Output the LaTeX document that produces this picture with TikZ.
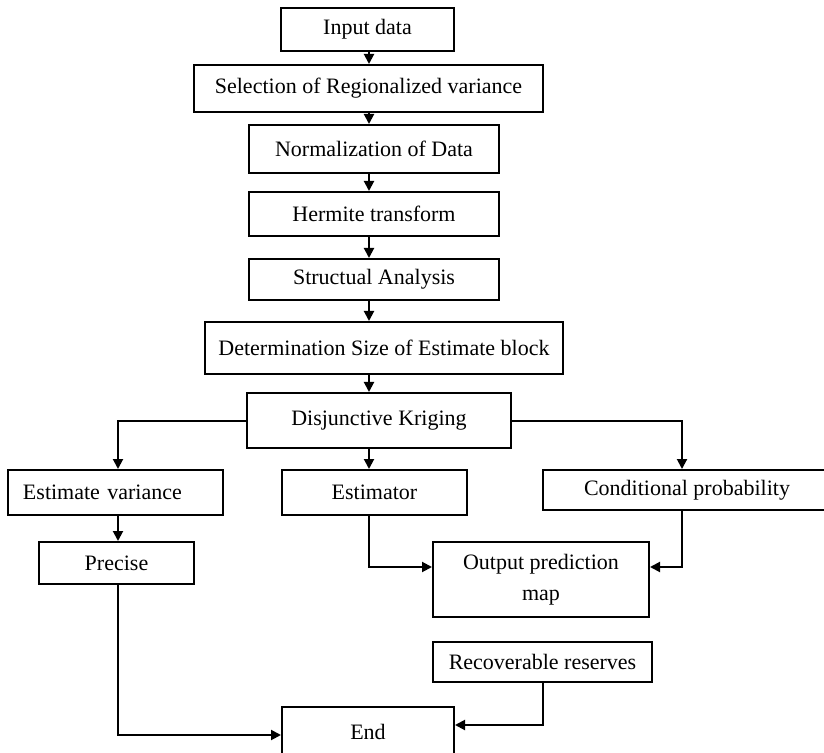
\documentclass[tikz,border=0pt]{standalone}
\usepackage{fontspec}
\setmainfont{Liberation Serif}
\usetikzlibrary{arrows.meta}

\begin{document}
\begin{tikzpicture}[x=0.5pt, y=-0.5pt,
    every node/.style={font=\fontsize{11}{15.5}\selectfont},
    box/.style={draw, line width=1pt, inner sep=0pt, align=center},
    arr/.style={line width=1pt, -{Triangle[length=5pt,width=5pt]}}]
    \useasboundingbox (0,0) rectangle (824,753);

    % Main column
    \node[box, minimum width=86.5pt, minimum height=21.5pt] (input) at (367.5,29.5) {Input data};
    \node[box, minimum width=174.5pt, minimum height=23.5pt] (select) at (368.5,88.5) {Selection of Regionalized variance};
    \node[box, minimum width=125pt, minimum height=24pt] (norm) at (374,149) {Normalization of Data};
    \node[box, minimum width=125pt, minimum height=22pt] (herm) at (374,214) {Hermite transform};
    \node[box, minimum width=125pt, minimum height=20.5pt] (struct) at (374,279.5) {Structual Analysis};
    \node[box, minimum width=179pt, minimum height=26pt] (determ) at (384,348) {Determination Size of Estimate block};
    \node[box, minimum width=132pt, minimum height=27.5pt] (disj) at (379,420.5) {Disjunctive Kriging};

    % Branches
    \node[box, text width=92.5pt, align=left, inner xsep=7.5pt, minimum height=22.5pt] (estvar) at (115.5,492.5) {Estimate variance};
    \node[box, minimum width=92.5pt, minimum height=22.5pt] (estim) at (374.5,492.5) {Estimator};
    \node[box, minimum width=144pt, minimum height=20pt] (cond) at (687,490) {Conditional probability};
    \node[box, minimum width=77.5pt, minimum height=21pt] (precise) at (116.5,563) {Precise};
    \node[box, minimum width=108pt, minimum height=37.5pt] (output) at (541,579.5) {Output prediction\\map};
    \node[box, minimum width=109.5pt, minimum height=20pt] (recov) at (542.5,662) {Recoverable reserves};
    \node[box, minimum width=86pt, minimum height=25pt] (end) at (368,732) {End};

    % Columns and levels of the connectors
    \coordinate (col) at (369,0);
    \coordinate (lcol) at (118,0);
    \coordinate (rcol) at (682,0);
    \coordinate (bcol) at (543,0);
    \coordinate (outy) at (0,567);
    \coordinate (endlo) at (0,735);
    \coordinate (endhi) at (0,725);

    % Main flow
    \draw[arr] (col |- input.south) -- (col |- select.north);
    \draw[arr] (col |- select.south) -- (col |- norm.north);
    \draw[arr] (col |- norm.south) -- (col |- herm.north);
    \draw[arr] (col |- herm.south) -- (col |- struct.north);
    \draw[arr] (col |- struct.south) -- (col |- determ.north);
    \draw[arr] (col |- determ.south) -- (col |- disj.north);
    \draw[arr] (col |- disj.south) -- (col |- estim.north);

    % Side branches
    \draw[arr] (disj.west) -| (lcol |- estvar.north);
    \draw[arr] (lcol |- estvar.south) -- (lcol |- precise.north);
    \draw[arr] (disj.east) -| (rcol |- cond.north);

    % Into the output map
    \draw[arr] (col |- estim.south) |- (output.west |- outy);
    \draw[arr] (rcol |- cond.south) |- (output.east |- outy);

    % Into the end
    \draw[arr] (lcol |- precise.south) |- (end.west |- endlo);
    \draw[arr] (bcol |- recov.south) |- (end.east |- endhi);
\end{tikzpicture}
\end{document}
